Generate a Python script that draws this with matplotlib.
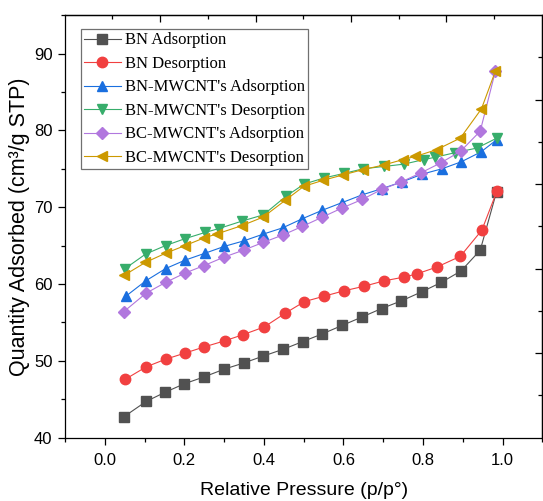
import numpy as np
import matplotlib
matplotlib.use("Agg")
import matplotlib.pyplot as plt
from matplotlib.ticker import MultipleLocator

# BN
bn_ads_x = [0.048, 0.104, 0.152, 0.200, 0.250, 0.300, 0.349, 0.398, 0.449, 0.498,
            0.547, 0.597, 0.647, 0.696, 0.746, 0.798, 0.846, 0.896, 0.944, 0.985]
bn_ads_y = [42.7, 44.7, 45.9, 47.0, 47.9, 48.9, 49.7, 50.6, 51.5, 52.5,
            53.5, 54.6, 55.7, 56.8, 57.8, 59.0, 60.2, 61.7, 64.4, 72.0]
bn_des_x = [0.052, 0.104, 0.153, 0.202, 0.250, 0.302, 0.348, 0.401, 0.454, 0.502,
            0.551, 0.601, 0.652, 0.702, 0.753, 0.784, 0.835, 0.894, 0.948, 0.986]
bn_des_y = [47.6, 49.2, 50.2, 51.0, 51.8, 52.6, 53.4, 54.4, 56.2, 57.7,
            58.4, 59.1, 59.7, 60.4, 60.9, 61.3, 62.2, 63.6, 67.0, 72.1]

# BN-MWCNT's
bnm_ads_x = [0.053, 0.103, 0.153, 0.202, 0.252, 0.301, 0.349, 0.399, 0.447, 0.497,
             0.547, 0.597, 0.647, 0.696, 0.748, 0.798, 0.848, 0.896, 0.946, 0.986]
bnm_ads_y = [58.4, 60.4, 62.0, 63.1, 64.0, 64.9, 65.6, 66.5, 67.3, 68.5,
             69.6, 70.6, 71.6, 72.4, 73.3, 74.3, 75.0, 75.9, 77.2, 78.8]
bnm_des_x = [0.051, 0.103, 0.153, 0.202, 0.252, 0.286, 0.346, 0.399, 0.455, 0.501,
             0.551, 0.602, 0.650, 0.702, 0.752, 0.802, 0.831, 0.881, 0.936, 0.986]
bnm_des_y = [62.0, 63.9, 65.0, 65.9, 66.7, 67.2, 68.2, 69.0, 71.4, 73.0,
             73.8, 74.4, 75.0, 75.3, 75.6, 76.2, 76.5, 77.1, 77.7, 79.0]

# BC-MWCNT's
bcm_ads_x = [0.048, 0.104, 0.153, 0.201, 0.250, 0.300, 0.349, 0.398, 0.449, 0.497,
             0.547, 0.597, 0.647, 0.696, 0.746, 0.796, 0.846, 0.895, 0.944, 0.982]
bcm_ads_y = [56.4, 58.8, 60.2, 61.4, 62.4, 63.5, 64.4, 65.4, 66.4, 67.5,
             68.7, 69.9, 71.0, 72.3, 73.3, 74.5, 75.8, 77.3, 79.9, 87.7]
bcm_des_x = [0.048, 0.102, 0.153, 0.202, 0.250, 0.281, 0.345, 0.398, 0.454, 0.500,
             0.549, 0.599, 0.650, 0.702, 0.750, 0.781, 0.835, 0.894, 0.947, 0.982]
bcm_des_y = [61.1, 62.8, 64.0, 65.0, 66.0, 66.5, 67.6, 68.7, 70.9, 72.7,
             73.5, 74.2, 74.9, 75.5, 76.2, 76.6, 77.5, 79.0, 82.8, 87.7]

labels = ["BN Adsorption", "BN Desorption", "BN-MWCNT's Adsorption",
          "BN-MWCNT's Desorption", "BC-MWCNT's Adsorption", "BC-MWCNT's Desorption"]
colors = ["#515151", "#F14040", "#1A6FDF", "#37AD6B", "#B177DE", "#CC9900"]
markers = ["s", "o", "^", "v", "D", "<"]

series = [(bn_ads_x, bn_ads_y), (bn_des_x, bn_des_y),
          (bnm_ads_x, bnm_ads_y), (bnm_des_x, bnm_des_y),
          (bcm_ads_x, bcm_ads_y), (bcm_des_x, bcm_des_y)]

plt.rcParams["font.family"] = ["Liberation Sans", "DejaVu Sans"]

fig = plt.figure(figsize=(5.43, 5.01), dpi=100)
ax = fig.add_axes([0.1197, 0.1267, 0.879, 0.843])

for (xs, ys), lab, c, m in zip(series, labels, colors, markers):
    ms = 6.5 if m == "D" else 7.5
    ax.plot(xs, ys, color=c, lw=0.8, marker=m, ms=ms, mec=c, mfc=c, label=lab)

ax.set_xlim(-0.1, 1.1)
ax.set_ylim(40, 95)
ax.xaxis.set_major_locator(MultipleLocator(0.2))
ax.xaxis.set_minor_locator(MultipleLocator(0.1))
ax.yaxis.set_major_locator(MultipleLocator(10))
ax.yaxis.set_minor_locator(MultipleLocator(5))
ax.tick_params(which="both", direction="out", width=0.9, labelsize=12, colors="black")
ax.tick_params(which="major", length=5)
ax.tick_params(which="minor", length=3)
ax.tick_params(axis="x", which="both", pad=6)
ax.tick_params(axis="y", which="both", pad=4)
for s in ax.spines.values():
    s.set_linewidth(0.9)

# top and right axes carry their own tick marks, no labels
top = ax.secondary_xaxis("top")
top.set_xticks([0.139, 0.379, 0.619, 0.859])
top.set_xticks([0.019, 0.259, 0.499, 0.739, 0.979], minor=True)
top.tick_params(which="both", direction="in", labeltop=False, width=0.9)
top.tick_params(which="major", length=5)
top.tick_params(which="minor", length=3)
top.spines["top"].set_linewidth(0.9)

right = ax.secondary_yaxis("right")
right.set_yticks([84.0, 73.0, 62.0, 51.0])
right.set_yticks([89.5, 78.5, 67.5, 56.5, 45.5], minor=True)
right.tick_params(which="both", direction="in", labelright=False, width=0.9)
right.tick_params(which="major", length=5)
right.tick_params(which="minor", length=3)
right.spines["right"].set_linewidth(0.9)

ax.set_xlabel("Relative Pressure (p/p°)", fontsize=14, labelpad=10)
ax.set_ylabel("Quantity Adsorbed (cm³/g STP)", fontsize=15.5, labelpad=3)

leg = ax.legend(loc="upper left", bbox_to_anchor=(0.033, 0.967), borderaxespad=0,
                prop={"family": "Liberation Serif", "size": 12},
                handlelength=2.2, handletextpad=0.25, labelspacing=0.45,
                fancybox=False, framealpha=1, edgecolor="#707070", borderpad=0.2)
leg.get_frame().set_linewidth(0.9)

fig.savefig("out.png", dpi=100)
